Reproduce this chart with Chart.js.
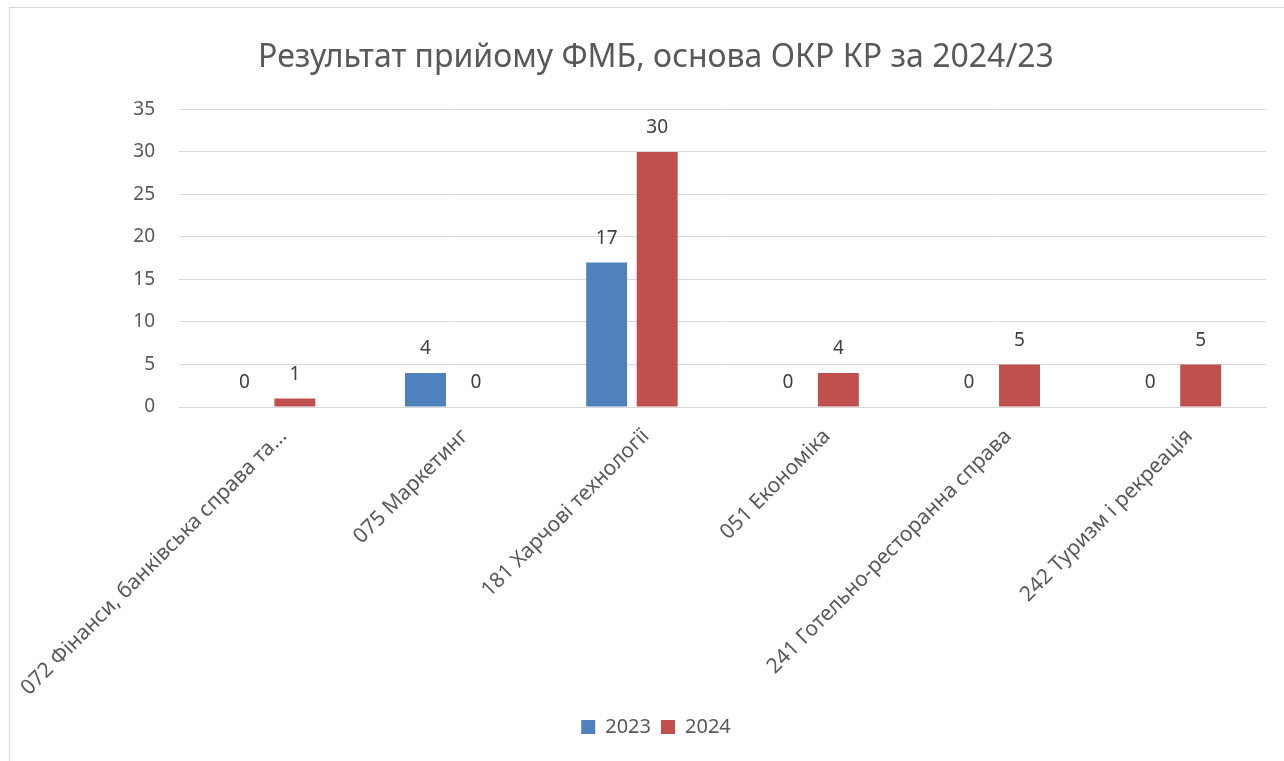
<!DOCTYPE html>
<html>
<head>
<meta charset="utf-8">
<script src="https://cdn.jsdelivr.net/npm/chart.js@4"></script>
<style>
  html, body { margin: 0; padding: 0; background: #fff; overflow: hidden; }
  #frame { position: absolute; left: 9px; top: 7px; width: 1300px; height: 800px; border: 1px solid #d9d9d9; }
  #wrap { position: absolute; left: 0; top: 0; width: 1284px; height: 761px; }
</style>
</head>
<body>
<div id="frame"></div>
<div id="wrap"><canvas id="chart"></canvas></div>
<script>
const categories = [
  '072 Фінанси, банківська справа та...',
  '075 Маркетинг',
  '181 Харчові технології',
  '051 Економіка',
  '241 Готельно-ресторанна справа',
  '242 Туризм і рекреація'
];
const values2023 = [0, 4, 17, 0, 0, 0];
const values2024 = [1, 0, 30, 4, 5, 5];
const yTicks = [0, 5, 10, 15, 20, 25, 30, 35];

const FONT = "'Noto Sans', 'Open Sans', sans-serif";
const GREY = '#595959';

// draws the value above each bar, like Excel data labels
const barLabels = {
  id: 'barLabels',
  afterDatasetsDraw(chart) {
    const ctx = chart.ctx;
    ctx.save();
    ctx.font = `19px ${FONT}`;
    ctx.fillStyle = '#404040';
    ctx.textAlign = 'center';
    ctx.textBaseline = 'middle';
    chart.data.datasets.forEach((ds, i) => {
      chart.getDatasetMeta(i).data.forEach((bar, j) => {
        ctx.fillText(String(ds.data[j]), bar.x, bar.y - 24);
      });
    });
    ctx.restore();
  }
};

new Chart(document.getElementById('chart').getContext('2d'), {
  type: 'bar',
  data: {
    labels: categories,
    datasets: [
      { label: '2023', data: values2023, backgroundColor: '#4F81BD', categoryPercentage: 0.558, barPercentage: 0.81 },
      { label: '2024', data: values2024, backgroundColor: '#C0504D', categoryPercentage: 0.558, barPercentage: 0.81 }
    ]
  },
  options: {
    responsive: true,
    maintainAspectRatio: false,
    animation: false,
    layout: { padding: { left: 46, right: 18, top: 0, bottom: 14 } },
    plugins: {
      title: {
        display: true,
        text: 'Результат прийому ФМБ, основа ОКР КР за 2024/23',
        color: GREY,
        font: { family: FONT, size: 32, weight: 'normal' },
        padding: { top: 39, bottom: 32 }
      },
      legend: {
        position: 'bottom',
        labels: {
          color: GREY,
          font: { family: FONT, size: 20 },
          boxWidth: 14,
          boxHeight: 14,
          padding: 10
        }
      },
      tooltip: { enabled: false }
    },
    scales: {
      x: {
        grid: { display: false },
        border: { color: '#d9d9d9', width: 1 },
        ticks: {
          color: GREY,
          font: { family: FONT, size: 21 },
          minRotation: 45,
          maxRotation: 45,
          padding: 9,
          labelOffset: 14
        },
        afterFit(scale) {
          scale.height = 300;
          // long rotated labels may hang past the left edge, as in the original
          scale.paddingLeft = 0;
          scale.paddingRight = 0;
        }
      },
      y: {
        min: 0,
        max: 35,
        afterBuildTicks(scale) { scale.ticks = yTicks.map(v => ({ value: v })); },
        grid: { color: '#d9d9d9', lineWidth: 1, drawTicks: false },
        border: { display: false },
        ticks: {
          color: GREY,
          font: { family: FONT, size: 19 },
          padding: 24
        },
        afterFit(scale) { scale.width = 133; }
      }
    }
  },
  plugins: [barLabels]
});
</script>
</body>
</html>
